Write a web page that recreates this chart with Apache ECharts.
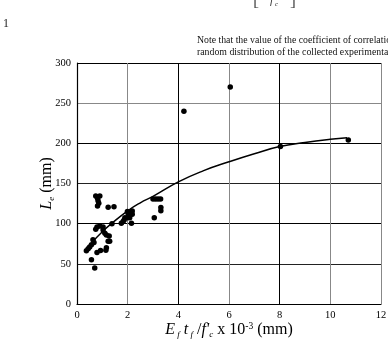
<!DOCTYPE html>
<html>
<head>
<meta charset="utf-8">
<script src="https://cdn.jsdelivr.net/npm/echarts@6/dist/echarts.min.js"></script>
<style>
  html, body { margin: 0; padding: 0; background: #fff; }
  #chart { width: 388px; height: 341px; }
</style>
</head>
<body>
<div id="chart"></div>
<script>
// measured points (Ef tf / f'c x 10^-3, Le)
var scatterPoints = [
    [0.74, 134.5], [0.90, 134.5], [0.81, 131.6], [0.83, 128.6], [0.86, 125.4], [0.81, 122],
    [1.23, 120.4], [1.46, 121.2],
    [0.74, 93], [0.79, 96], [0.90, 97], [1.03, 96], [1.03, 92], [1.10, 88], [1.16, 86],
    [1.27, 84.8], [1.23, 78], [1.29, 78], [1.16, 70], [1.14, 67], [0.93, 66.5], [0.79, 64],
    [0.63, 80], [0.67, 76.5], [0.57, 73.6], [0.50, 70.8], [0.44, 68.7], [0.37, 66.2],
    [0.57, 55], [0.70, 44.7], [1.38, 100],
    [1.75, 100.6], [1.82, 102.6], [1.86, 104.7], [1.89, 107.5], [1.99, 107.5], [2.08, 107.5],
    [1.99, 115], [2.18, 115.8], [2.18, 111.7], [2.15, 100.6], [2.02, 112],
    [3.0, 130.7], [3.1, 130.7], [3.2, 130.7], [3.3, 130.7], [3.31, 120], [3.31, 116], [3.05, 107.5],
    [4.22, 240], [6.05, 270], [8.03, 196], [10.71, 204]
];
// fitted curve
var fitCurve = [
    [0.63, 78], [1.0, 90], [1.36, 100], [2.0, 116], [2.5, 126], [3.0, 134], [4.0, 152],
    [5.0, 166], [6.0, 177], [7.0, 187], [8.0, 196], [9.0, 201], [10.0, 205], [10.66, 207]
];
var xRange = [0, 12, 2];
var yRange = [0, 300, 50];

var serif = 'Liberation Serif';
var chart = echarts.init(document.getElementById('chart'));

var option = {
    backgroundColor: '#fff',
    animation: false,
    grid: {
        left: 77,
        right: 7,
        top: 63,
        bottom: 37,
        outerBoundsMode: 'none'
    },
    xAxis: {
        type: 'value',
        min: xRange[0],
        max: xRange[1],
        interval: xRange[2],
        axisLine: { lineStyle: { color: '#000', width: 1.2 } },
        axisTick: { show: false },
        axisLabel: { color: '#000', fontFamily: serif, fontSize: 10.5, margin: 6 },
        splitLine: {
            lineStyle: {
                color: ['#000', '#888', '#000', '#888', '#000', '#888', '#888'],
                width: 1
            }
        },
        name: '{i|E}{sub| f}{i| t}{sub| f}{n| /}{i|f\'}{sub|c}{n| x 10}{sup|-3}{n| (mm)}',
        nameLocation: 'middle',
        nameMoveOverlap: false,
        nameGap: 17,
        nameTextStyle: {
            color: '#000',
            fontFamily: serif,
            rich: {
                i: { fontFamily: serif, fontStyle: 'italic', fontSize: 16, color: '#000', lineHeight: 18, verticalAlign: 'middle' },
                n: { fontFamily: serif, fontSize: 16, color: '#000', lineHeight: 18, verticalAlign: 'middle' },
                sub: { fontFamily: serif, fontStyle: 'italic', fontSize: 9, color: '#000', lineHeight: 18, verticalAlign: 'bottom' },
                sup: { fontFamily: serif, fontSize: 9.5, color: '#000', lineHeight: 18, verticalAlign: 'top' }
            }
        }
    },
    yAxis: {
        type: 'value',
        min: yRange[0],
        max: yRange[1],
        interval: yRange[2],
        axisLine: { lineStyle: { color: '#000', width: 1.2 } },
        axisTick: { show: false },
        axisLabel: { color: '#000', fontFamily: serif, fontSize: 10.5, margin: 6 },
        splitLine: {
            lineStyle: {
                color: ['#000', '#222', '#000', '#222', '#000', '#888', '#000'],
                width: 1
            }
        },
        name: '{i|L}{sub|e}{n| (mm)}',
        nameLocation: 'middle',
        nameMoveOverlap: false,
        nameGap: 21,
        nameTextStyle: {
            color: '#000',
            fontFamily: serif,
            rich: {
                i: { fontFamily: serif, fontStyle: 'italic', fontSize: 16, color: '#000', lineHeight: 18, verticalAlign: 'middle' },
                n: { fontFamily: serif, fontSize: 16, color: '#000', lineHeight: 18, verticalAlign: 'middle' },
                sub: { fontFamily: serif, fontStyle: 'italic', fontSize: 9, color: '#000', lineHeight: 18, verticalAlign: 'bottom' }
            }
        }
    },
    graphic: [
        { type: 'text', left: 253, top: -9, style: { text: '[', font: '18px "Liberation Serif"', fill: '#555' } },
        { type: 'text', left: 270, top: -4, style: { text: 'f', font: 'italic 11px "Liberation Serif"', fill: '#333' } },
        { type: 'text', left: 275, top: 1, style: { text: 'c', font: 'italic 7px "Liberation Serif"', fill: '#333' } },
        { type: 'text', left: 290, top: -9, style: { text: ']', font: '18px "Liberation Serif"', fill: '#555' } },
        { type: 'text', left: 3, top: 18, style: { text: '1', font: '12px "Liberation Serif"', fill: '#222' } },
        { type: 'text', left: 197, top: 35, style: { text: 'Note that the value of the coefficient of correlation', font: '9.8px "Liberation Serif"', fill: '#111' } },
        { type: 'text', left: 197, top: 47, style: { text: 'random distribution of the collected experimental', font: '9.8px "Liberation Serif"', fill: '#111' } }
    ],
    series: [{
        name: 'test',
        type: 'scatter',
        symbol: 'circle',
        symbolSize: 5.5,
        itemStyle: { color: '#000', opacity: 1 },
        data: scatterPoints
    }, {
        name: 'fit',
        type: 'line',
        smooth: true,
        showSymbol: false,
        symbol: 'none',
        lineStyle: { color: '#000', width: 1.5 },
        data: fitCurve
    }]
};

chart.setOption(option);
</script>
</body>
</html>
